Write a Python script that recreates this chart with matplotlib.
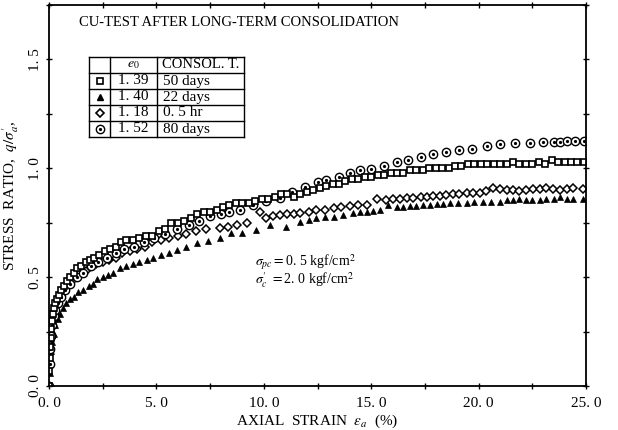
import matplotlib
matplotlib.use("Agg")
import matplotlib.pyplot as plt
from matplotlib.ticker import MultipleLocator

plt.rcParams['font.family'] = ['Liberation Serif', 'DejaVu Serif']
plt.rcParams['mathtext.fontset'] = 'stix'

# 1.39 / 50 days (squares)
sq_x = [0.00, 0.02, 0.04, 0.06, 0.08, 0.10, 0.13, 0.17, 0.22, 0.28, 0.35, 0.45, 0.55, 0.70, 0.85,
        1.00, 1.15, 1.30, 1.50, 1.70, 1.90, 2.10, 2.35, 2.60, 2.85, 3.10, 3.35, 3.60, 3.90, 4.20,
        4.50, 4.80, 5.10, 5.40, 5.70, 6.00, 6.30, 6.60, 6.90, 7.20, 7.50, 7.80, 8.10, 8.40, 8.70,
        9.00, 9.30, 9.60, 9.90, 10.2, 10.5, 10.8, 11.1, 11.4, 11.7, 12.0, 12.3, 12.6, 12.9, 13.2,
        13.5, 13.8, 14.1, 14.4, 14.7, 15.0, 15.3, 15.6, 15.9, 16.2, 16.5, 16.8, 17.1, 17.4, 17.7,
        18.0, 18.3, 18.6, 18.9, 19.2, 19.5, 19.8, 20.1, 20.4, 20.7, 21.0, 21.3, 21.6, 21.9, 22.2,
        22.5, 22.8, 23.1, 23.4, 23.7, 24.0, 24.3, 24.6, 24.9]
sq_y = [0.00, 0.07, 0.13, 0.18, 0.22, 0.26, 0.30, 0.33, 0.36, 0.38, 0.40, 0.42, 0.44, 0.46, 0.48,
        0.50, 0.52, 0.54, 0.55, 0.57, 0.58, 0.59, 0.60, 0.62, 0.63, 0.64, 0.66, 0.67, 0.67, 0.68,
        0.69, 0.69, 0.71, 0.72, 0.75, 0.75, 0.76, 0.77, 0.79, 0.80, 0.80, 0.81, 0.82, 0.83, 0.84,
        0.84, 0.84, 0.85, 0.86, 0.86, 0.87, 0.88, 0.88, 0.87, 0.88, 0.89, 0.90, 0.91, 0.92, 0.93,
        0.93, 0.94, 0.95, 0.95, 0.96, 0.96, 0.97, 0.97, 0.98, 0.98, 0.98, 0.99, 0.99, 0.99, 1.00,
        1.00, 1.00, 1.00, 1.01, 1.01, 1.02, 1.02, 1.02, 1.02, 1.02, 1.02, 1.02, 1.03, 1.02, 1.02,
        1.02, 1.03, 1.02, 1.04, 1.03, 1.03, 1.03, 1.03, 1.03]

# 1.40 / 22 days (triangles)
tr_x = [0.00, 0.03, 0.06, 0.10, 0.15, 0.22, 0.30, 0.40, 0.50, 0.65,
        0.80, 0.98, 1.15, 1.35, 1.60, 1.85, 2.05, 2.25, 2.50, 2.75,
        3.00, 3.30, 3.60, 3.90, 4.20, 4.55, 4.85, 5.20, 5.60, 5.95,
        6.40, 6.90, 7.40, 7.95, 8.45, 9.00, 9.65, 10.3, 11.05, 11.7,
        12.1, 12.45, 12.85, 13.25, 13.7, 14.15, 14.5, 14.8, 15.1, 15.4,
        15.8, 16.2, 16.5, 16.8, 17.1, 17.4, 17.75, 18.05, 18.35, 18.65,
        19.05, 19.45, 19.8, 20.2, 20.6, 21.0, 21.3, 21.6, 21.9, 22.2,
        22.5, 22.85, 23.15, 23.5, 23.8, 24.1, 24.4, 24.85]
tr_y = [0.00, 0.06, 0.11, 0.16, 0.20, 0.24, 0.28, 0.31, 0.33, 0.36,
        0.38, 0.40, 0.41, 0.43, 0.44, 0.46, 0.47, 0.49, 0.50, 0.51,
        0.52, 0.54, 0.55, 0.56, 0.57, 0.58, 0.59, 0.60, 0.61, 0.625,
        0.64, 0.655, 0.665, 0.678, 0.704, 0.704, 0.717, 0.74, 0.732, 0.755,
        0.762, 0.770, 0.774, 0.778, 0.786, 0.793, 0.797, 0.801, 0.804, 0.808,
        0.831, 0.821, 0.824, 0.827, 0.829, 0.831, 0.832, 0.834, 0.836, 0.839,
        0.840, 0.842, 0.845, 0.847, 0.847, 0.847, 0.854, 0.855, 0.857, 0.855,
        0.854, 0.856, 0.857, 0.860, 0.867, 0.860, 0.859, 0.859]

# 1.18 / 0.5 hr (diamonds)
di_x = [0.00, 0.03, 0.06, 0.10, 0.15, 0.21, 0.28, 0.36, 0.46, 0.58,
        0.72, 0.88, 1.05, 1.25, 1.45, 1.70, 1.95, 2.20, 2.50, 2.80,
        3.10, 3.40, 3.75, 4.10, 4.45, 4.80, 5.20, 5.60, 6.00, 6.40,
        6.85, 7.30, 7.95, 8.35, 8.75, 9.20, 9.80, 10.1, 10.45, 10.75,
        11.1, 11.4, 11.7, 12.1, 12.45, 12.85, 13.25, 13.6, 14.0, 14.4,
        14.8, 15.25, 15.7, 16.0, 16.35, 16.65, 16.95, 17.3, 17.6, 17.9,
        18.2, 18.5, 18.8, 19.1, 19.45, 19.75, 20.05, 20.35, 20.65, 21.0,
        21.3, 21.6, 21.9, 22.2, 22.55, 22.85, 23.15, 23.45, 23.8, 24.1,
        24.4, 24.85]
di_y = [0.00, 0.09, 0.16, 0.22, 0.27, 0.31, 0.34, 0.37, 0.40, 0.42,
        0.44, 0.46, 0.48, 0.50, 0.52, 0.53, 0.55, 0.56, 0.57, 0.58,
        0.59, 0.61, 0.62, 0.63, 0.64, 0.66, 0.67, 0.68, 0.69, 0.70,
        0.71, 0.72, 0.725, 0.73, 0.74, 0.75, 0.80, 0.77, 0.78, 0.785,
        0.79, 0.79, 0.795, 0.80, 0.808, 0.81, 0.816, 0.82, 0.827, 0.83,
        0.831, 0.858, 0.854, 0.857, 0.859, 0.862, 0.865, 0.868, 0.870, 0.872,
        0.874, 0.878, 0.881, 0.883, 0.885, 0.887, 0.888, 0.895, 0.908, 0.903,
        0.900, 0.899, 0.897, 0.900, 0.904, 0.906, 0.908, 0.904, 0.900, 0.904,
        0.908, 0.904]

# 1.52 / 80 days (circles)
ci_x = [0.00, 0.03, 0.06, 0.10, 0.15, 0.22, 0.30, 0.40, 0.55, 0.75,
        1.00, 1.30, 1.60, 1.95, 2.30, 2.70, 3.10, 3.50, 3.95, 4.40,
        4.90, 5.40, 5.95, 6.50, 7.00, 7.50, 8.00, 8.40, 8.90, 9.50,
        10.1, 10.75, 11.3, 11.9, 12.5, 12.9, 13.5, 14.0, 14.5, 15.0,
        15.6, 16.2, 16.7, 17.3, 17.9, 18.5, 19.1, 19.7, 20.4, 21.0,
        21.7, 22.4, 23.0, 23.5, 23.8, 24.1, 24.5, 24.9]
ci_y = [0.00, 0.10, 0.17, 0.23, 0.28, 0.32, 0.35, 0.38, 0.41, 0.44,
        0.47, 0.50, 0.52, 0.55, 0.57, 0.59, 0.61, 0.63, 0.64, 0.66,
        0.68, 0.70, 0.72, 0.74, 0.76, 0.78, 0.79, 0.80, 0.81, 0.83,
        0.85, 0.863, 0.89, 0.913, 0.939, 0.946, 0.959, 0.980, 0.992, 0.997,
        1.010, 1.030, 1.038, 1.050, 1.064, 1.076, 1.084, 1.089, 1.104, 1.110,
        1.115, 1.118, 1.120, 1.122, 1.122, 1.125, 1.125, 1.125]

e0_vals = ["1. 39", "1. 40", "1. 18", "1. 52"]
consol_vals = ["50 days", "22 days", "0. 5 hr", "80 days"]
x_ticks = [0, 5, 10, 15, 20, 25]
x_ticklabels = ["0. 0", "5. 0", "10. 0", "15. 0", "20. 0", "25. 0"]
y_ticks = [0, 0.5, 1.0, 1.5]
y_ticklabels = ["0. 0", "0. 5", "1. 0", "1. 5"]

fig = plt.figure(figsize=(6.18, 4.30), dpi=100)
ax = fig.add_axes([49 / 618, 44 / 430, 537 / 618, 381 / 430])

ax.plot(tr_x, tr_y, '^', ms=3.8, mfc='black', mec='black', mew=0.5, ls='none')
ax.plot(di_x, di_y, 'D', ms=3.8, mfc='white', mec='black', mew=1.1, ls='none')
ax.plot(ci_x, ci_y, 'o', ms=6, mfc='white', mec='black', mew=1.0, ls='none')
ax.plot(ci_x, ci_y, 'o', ms=1.3, color='black', ls='none')
ax.plot(sq_x, sq_y, 's', ms=4.3, mfc='white', mec='black', mew=1.2, ls='none')

ax.set_xlim(0, 25)
ax.set_ylim(0, 1.75)
ax.set_xticks(x_ticks)
ax.set_xticklabels(x_ticklabels, fontsize=11)
ax.set_yticks(y_ticks)
ax.set_yticklabels(y_ticklabels, fontsize=11, rotation=90, va='center')
ax.xaxis.set_minor_locator(MultipleLocator(2.5))
ax.yaxis.set_minor_locator(MultipleLocator(0.25))
ax.tick_params(which='both', direction='inout', top=True, right=True, length=4, width=1.0)
ax.tick_params(axis='x', pad=6)
ax.tick_params(axis='y', pad=3)
for s in ax.spines.values():
    s.set_linewidth(1.3)

ax.set_xlabel(r"AXIAL  STRAIN  $\varepsilon_a$  (%)", fontsize=11, labelpad=2)
ax.set_ylabel(r"STRESS  RATIO,  $q/\sigma^{\prime}_{a}$,", fontsize=11, labelpad=6)

ax.text(0.055, 0.955, "CU-TEST AFTER LONG-TERM CONSOLIDATION", transform=ax.transAxes,
        fontsize=10.5, va='center', ha='left')

ax.text(9.6, 0.568, r"$\sigma_{pc}$$=$0. 5 kgf/cm$^2$", fontsize=10, va='center')
ax.text(9.6, 0.485, r"$\sigma^{\prime}_{c}$ $=$2. 0 kgf/cm$^2$", fontsize=10, va='center')


# legend table (pixel positions converted to axes fractions)
def fx(px):
    return (px - 49) / 537


def fy(py):
    return (386 - py) / 381


tb_cols = [89, 110, 157, 244]
tb_rows = [57, 73, 89, 105, 121, 137]
tr = ax.transAxes
for px in tb_cols:
    ax.plot([fx(px), fx(px)], [fy(tb_rows[0]), fy(tb_rows[-1])], color='black', lw=1.0,
            transform=tr, clip_on=False)
for py in tb_rows:
    ax.plot([fx(tb_cols[0]), fx(tb_cols[-1])], [fy(py), fy(py)], color='black', lw=1.0,
            transform=tr, clip_on=False)

ax.text(fx((tb_cols[1] + tb_cols[2]) / 2), fy((tb_rows[0] + tb_rows[1]) / 2), r"$e_0$",
        transform=tr, ha='center', va='center', fontsize=10)
ax.text(fx((tb_cols[2] + tb_cols[3]) / 2), fy((tb_rows[0] + tb_rows[1]) / 2), "CONSOL. T.",
        transform=tr, ha='center', va='center', fontsize=10.5)

mk_styles = [dict(marker='s', ms=4.3, mfc='white', mec='black', mew=1.2),
             dict(marker='^', ms=4.5, mfc='black', mec='black'),
             dict(marker='D', ms=4.0, mfc='white', mec='black', mew=1.2),
             dict(marker='o', ms=6, mfc='white', mec='black', mew=1.0)]
for i in range(4):
    yc = fy((tb_rows[i + 1] + tb_rows[i + 2]) / 2)
    xm = fx((tb_cols[0] + tb_cols[1]) / 2)
    ax.plot([xm], [yc], transform=tr, clip_on=False, ls='none', **mk_styles[i])
    if i == 3:
        ax.plot([xm], [yc], 'o', ms=1.3, color='black', transform=tr, clip_on=False)
    ax.text(fx((tb_cols[1] + tb_cols[2]) / 2), yc, e0_vals[i], transform=tr,
            ha='center', va='center', fontsize=11)
    ax.text(fx(tb_cols[2] + 6), yc, consol_vals[i], transform=tr,
            ha='left', va='center', fontsize=11)

fig.savefig("out.png", dpi=100)
